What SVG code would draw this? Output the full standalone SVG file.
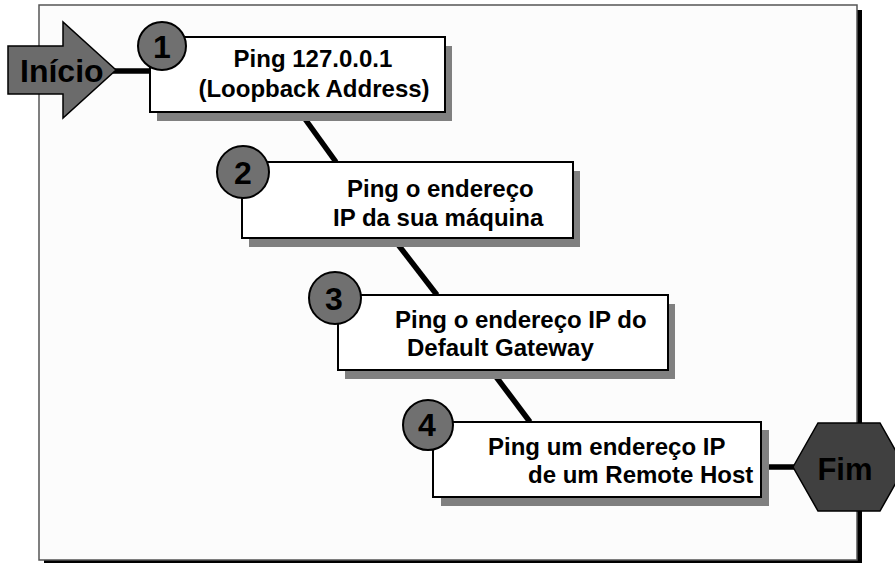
<svg xmlns="http://www.w3.org/2000/svg" width="895" height="563" viewBox="0 0 895 563">
<style>
.txt{font-family:"Liberation Sans",Arial,sans-serif;font-weight:bold;fill:#000}
.lbl{font-size:24px}
.num{font-size:32px;text-anchor:middle}
.box{fill:#fff;stroke:#000;stroke-width:2}
.shadow{fill:#808080}
.circ{fill:#707070;stroke:#000;stroke-width:2}
.conn{stroke:#000;stroke-width:5.5;fill:none}
</style>
<rect width="895" height="563" fill="#fff"/>
<g id="frame">
<rect x="44" y="10" width="818" height="560" fill="#000"/>
<rect x="39" y="5" width="818" height="555" fill="#fcfcfc" stroke="#555" stroke-width="1.5"/>
</g>
<g id="connectors">
<line class="conn" x1="113" y1="71" x2="152" y2="71"/>
<line class="conn" x1="300" y1="112" x2="336" y2="162"/>
<line class="conn" x1="393" y1="238" x2="437" y2="295"/>
<line class="conn" x1="491" y1="370" x2="530" y2="422"/>
<line class="conn" x1="759" y1="467" x2="796" y2="467"/>
</g>
<g id="inicio">
<path d="M8,46 H63 V22 L116,70 L63,118 V94 H8 Z" fill="#6b6b6b" stroke="#000" stroke-width="1.5"/>
<text class="txt" x="20" y="82" font-size="32">Início</text>
</g>
<g id="step1">
<rect class="shadow" x="157" y="46" width="295" height="75"/>
<rect class="box" x="150" y="37" width="295" height="75"/>
<circle class="circ" cx="162" cy="46" r="24"/>
<text class="txt num" x="162" y="58">1</text>
<text class="txt lbl" x="313" y="67" text-anchor="middle">Ping 127.0.0.1</text>
<text class="txt lbl" x="314" y="97" text-anchor="middle">(Loopback Address)</text>
</g>
<g id="step2">
<rect class="shadow" x="249" y="171" width="331" height="76"/>
<rect class="box" x="242" y="162" width="331" height="76"/>
<circle class="circ" cx="243" cy="172" r="26"/>
<text class="txt num" x="243" y="184">2</text>
<text class="txt lbl" x="347" y="197">Ping o endereço</text>
<text class="txt lbl" x="333" y="226">IP da sua máquina</text>
</g>
<g id="step3">
<rect class="shadow" x="345" y="304" width="330" height="75"/>
<rect class="box" x="338" y="295" width="330" height="75"/>
<circle class="circ" cx="335" cy="298" r="26"/>
<text class="txt num" x="334" y="310">3</text>
<text class="txt lbl" x="395" y="328">Ping o endereço IP do</text>
<text class="txt lbl" x="407" y="356">Default Gateway</text>
</g>
<g id="step4">
<rect class="shadow" x="441" y="430" width="328" height="76"/>
<rect class="box" x="433" y="422" width="328" height="75"/>
<circle class="circ" cx="428" cy="425" r="25"/>
<text class="txt num" x="427" y="436">4</text>
<text class="txt lbl" x="488" y="455">Ping um endereço IP</text>
<text class="txt lbl" x="528" y="483">de um Remote Host</text>
</g>
<g id="fim">
<polygon points="793,467 818,423 880,423 905,467 880,511 818,511" fill="#404040" stroke="#000" stroke-width="1.5"/>
<text class="txt" x="845" y="480" font-size="31" text-anchor="middle">Fim</text>
</g>
</svg>
